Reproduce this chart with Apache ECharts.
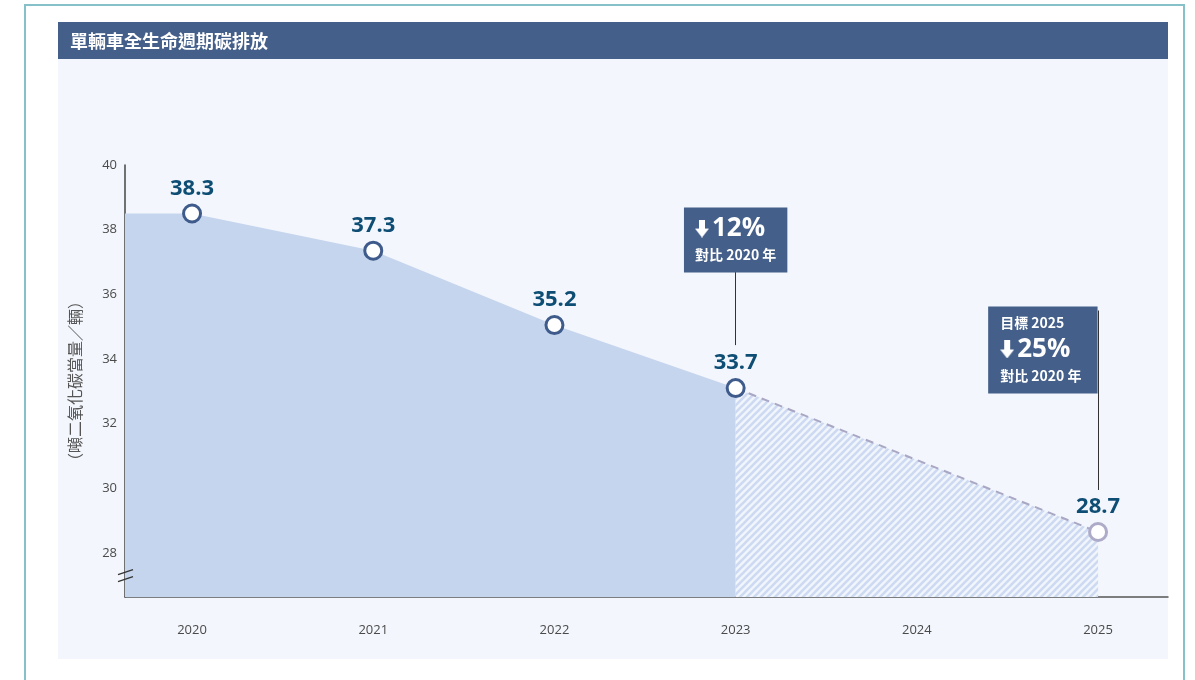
<!DOCTYPE html>
<html><head><meta charset="utf-8">
<script src="https://cdn.jsdelivr.net/npm/echarts@6/dist/echarts.min.js"></script>
<style>html,body{margin:0;padding:0;background:#fff}#c{width:1195px;height:680px}</style>
</head><body><div id="c"></div>
<script>
// ---- data ----
const xTickYears = [2020, 2021, 2022, 2023, 2024, 2025];
const xTickLabels = ['2020', '2021', '2022', '2023', '2024', '2025'];
const yTicks = [28, 30, 32, 34, 36, 38, 40];
const actualYears = [2020, 2021, 2022, 2023];
const actualValues = [38.5, 37.35, 35.05, 33.1];
const targetYears = [2023, 2025];
const targetValues = [33.1, 28.65];
const pointYears = [2020, 2021, 2022, 2023, 2025];
const pointValues = [38.5, 37.35, 35.05, 33.1, 28.65];
const pointLabels = ['38.3', '37.3', '35.2', '33.7', '28.7'];
const titleText = '單輛車全生命週期碳排放';
const yName = '（噸二氧化碳當量／輛）';

const X_MIN = 2019.63, X_MAX = 2025.386, Y_MIN = 26.64, Y_MAX = 40;

// hatch pattern
function makeHatch() {
  const s = 7, c = document.createElement('canvas');
  c.width = s; c.height = s;
  const g = c.getContext('2d');
  g.fillStyle = '#f1f5fc'; g.fillRect(0, 0, s, s);
  g.strokeStyle = '#cddaf2'; g.lineWidth = 2.6;
  g.beginPath();
  g.moveTo(0, s); g.lineTo(s, 0);
  g.moveTo(-2, 2); g.lineTo(2, -2);
  g.moveTo(s - 2, s + 2); g.lineTo(s + 2, s - 2);
  g.stroke();
  return c;
}
// block down arrow glyph
function makeArrow() {
  const c = document.createElement('canvas');
  c.width = 14; c.height = 18;
  const g = c.getContext('2d');
  g.fillStyle = '#fff';
  g.beginPath();
  g.moveTo(4, 0); g.lineTo(10, 0); g.lineTo(10, 9); g.lineTo(14, 9);
  g.lineTo(7, 18); g.lineTo(0, 9); g.lineTo(4, 9); g.closePath();
  g.fill();
  return c;
}
const arrowImg = makeArrow();

const solidData = [[X_MIN, actualValues[0]]].concat(actualYears.map((y, i) => [y, actualValues[i]]));
const targetData = targetYears.map((y, i) => [y, targetValues[i]]);
const pointData = pointYears.map((y, i) => ({
  value: [y, pointValues[i]],
  label: { formatter: pointLabels[i] },
  itemStyle: { borderColor: y === 2025 ? '#aeabc8' : '#3f5b8c' }
}));

const chart = echarts.init(document.getElementById('c'));
const baseGraphic = [
  { type: 'rect', z: -100, shape: { x: 25, y: 5, width: 1159, height: 720 }, style: { fill: '#fff', stroke: '#86c0c8', lineWidth: 2 }, silent: true },
  { type: 'rect', z: -99, shape: { x: 58, y: 22, width: 1110, height: 637 }, style: { fill: '#f3f6fc' }, silent: true },
  { type: 'rect', z: -98, shape: { x: 58, y: 22, width: 1110, height: 37 }, style: { fill: '#445f8a' }, silent: true },
  { type: 'text', z: -97, x: 70, y: 41, style: { text: titleText, fill: '#fff', font: 'bold 18px "Noto Sans CJK TC"', textVerticalAlign: 'middle' }, silent: true }
];

function richBox(al) {
  return {
    ai: { backgroundColor: { image: arrowImg }, width: 14, height: 18, lineHeight: 32, align: al },
    sp: { width: 3, lineHeight: 32, align: al },
    big: { fontFamily: 'Open Sans', fontWeight: 'bold', fontSize: 26, color: '#fff', lineHeight: 32, align: al },
    small: { fontFamily: 'Noto Sans CJK TC', fontWeight: 'bold', fontSize: 14, color: '#fff', lineHeight: 21, align: al }
  };
}

chart.setOption({
  animation: false,
  graphic: baseGraphic,
  grid: { left: 125, right: 27, top: 165, bottom: 83, containLabel: false },
  xAxis: {
    type: 'value', min: X_MIN, max: X_MAX,
    axisLine: { show: true, lineStyle: { color: '#555', width: 1.5 } },
    axisTick: { show: false }, splitLine: { show: false },
    axisLabel: { customValues: xTickYears, formatter: v => xTickLabels[xTickYears.indexOf(Math.round(v))], color: '#4a4a4a', fontSize: 13, fontFamily: 'Open Sans', margin: 27 }
  },
  yAxis: {
    type: 'value', min: Y_MIN, max: Y_MAX,
    name: yName, nameLocation: 'middle', nameRotate: 90, nameGap: 42,
    nameTextStyle: { color: '#555', fontSize: 16, fontFamily: 'Noto Sans CJK TC' },
    axisLine: { show: true, lineStyle: { color: '#444', width: 1.5 } },
    axisTick: { show: false }, splitLine: { show: false },
    axisLabel: { customValues: yTicks, color: '#4a4a4a', fontSize: 13, fontFamily: 'Open Sans', margin: 8 }
  },
  series: [
    {
      type: 'line', data: solidData, symbol: 'none', z: 2,
      lineStyle: { width: 0 },
      areaStyle: { color: '#c5d5ee', origin: 'start', opacity: 1 }
    },
    {
      type: 'line', data: targetData, symbol: 'none', z: 2,
      lineStyle: { color: '#a9a7c4', width: 2, type: [8, 6] },
      areaStyle: { color: { image: makeHatch(), repeat: 'repeat' }, origin: 'start', opacity: 1 },
      markLine: {
        silent: true, symbol: 'none', label: { show: false },
        lineStyle: { color: '#333', width: 1, type: 'solid' },
        data: [
          [{ coord: [2023, 36.69] }, { coord: [2023, 34.43] }],
          [{ coord: [2025, 35.5] }, { coord: [2025, 29.95] }]
        ]
      },
      markPoint: {
        silent: true, symbol: 'rect', symbolSize: 1, itemStyle: { color: 'transparent' },
        data: [
          { coord: [2023, 37.68], label: { show: true, position: 'inside', align: 'center', verticalAlign: 'middle', backgroundColor: '#445f8a', padding: [5, 11, 7, 11], formatter: '{ai| }{sp| }{big|12%}\n{small|對比 2020 年}', rich: richBox('left') } },
          { coord: [2025, 34.28], label: { show: true, position: 'left', distance: 0, align: 'right', verticalAlign: 'middle', backgroundColor: '#445f8a', padding: [6, 16, 7, 12], formatter: '{small|目標 2025}\n{ai| }{sp| }{big|25%}\n{small|對比 2020 年}', rich: richBox('left') } }
        ]
      }
    },
    {
      type: 'scatter', data: pointData, symbol: 'circle', symbolSize: 17, z: 5,
      itemStyle: { color: '#fff', borderWidth: 3, opacity: 1 },
      label: { show: true, position: 'top', distance: 4, color: '#0f4e74', fontSize: 22, fontWeight: 'bold', fontFamily: 'Open Sans' }
    }
  ]
});

// axis break marks on the y axis
const p = chart.convertToPixel({ gridIndex: 0 }, [X_MIN, 27.3]);
const bx = p[0], by = p[1];
chart.setOption({
  graphic: baseGraphic.concat([
    { type: 'line', z: 10, shape: { x1: bx - 7, y1: by - 1, x2: bx + 8, y2: by - 6 }, style: { stroke: '#333', lineWidth: 1.2 }, silent: true },
    { type: 'line', z: 10, shape: { x1: bx - 7, y1: by + 6, x2: bx + 8, y2: by + 1 }, style: { stroke: '#333', lineWidth: 1.2 }, silent: true }
  ])
});
</script></body></html>
